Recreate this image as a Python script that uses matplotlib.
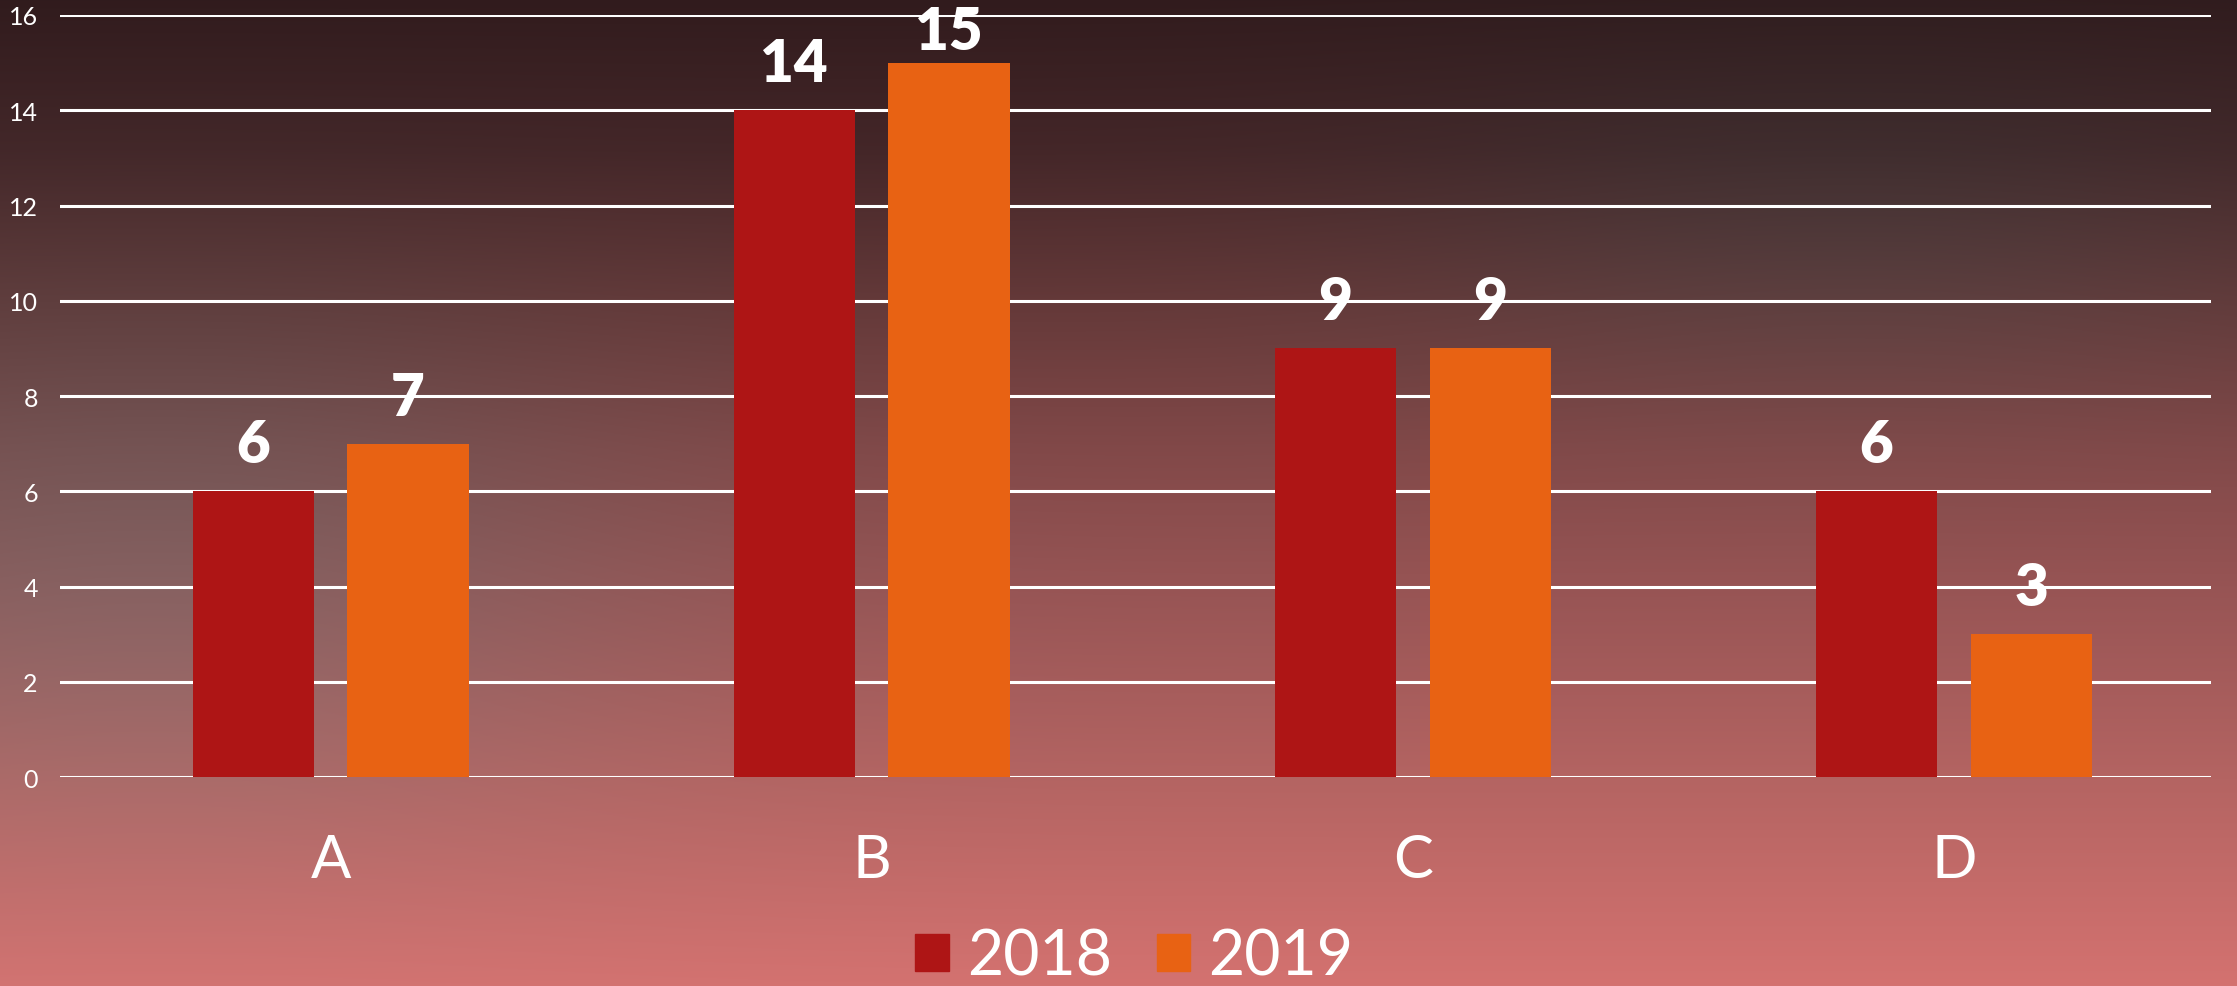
import numpy as np
import matplotlib
matplotlib.use("Agg")
import matplotlib.pyplot as plt
from matplotlib.patches import Patch

# data
categories = ["A", "B", "C", "D"]
series_names = ["2018", "2019"]
values_2018 = [6, 14, 9, 6]
values_2019 = [7, 15, 9, 3]
yticks = [0, 2, 4, 6, 8, 10, 12, 14, 16]

colors = ["#ae1515", "#e86213"]

W, H = 2237, 987
fig = plt.figure(figsize=(W / 100, H / 100), dpi=100)

# background: vertical gradient with a couple of soft greyish spots
stops_y = np.array([0, 150, 300, 450, 600, 780, 987]) / H
stops_c = np.array([
    (49, 27, 29), (68, 38, 40), (100, 56, 56), (130, 72, 72),
    (153, 85, 85), (180, 100, 98), (212, 114, 112)]) / 255.0
yy = np.linspace(0, 1, H)
base = np.stack([np.interp(yy, stops_y, stops_c[:, k]) for k in range(3)], axis=-1)
img = np.repeat(base[:, None, :], W, axis=1)
gx, gy = np.meshgrid(np.arange(W), np.arange(H))
grey = img.mean(axis=-1, keepdims=True)
w = (0.45 * np.exp(-(((gx - 150) / 500.0) ** 2 + ((gy - 520) / 300.0) ** 2))
     + 0.4 * np.exp(-(((gx - 1850) / 450.0) ** 2 + ((gy - 200) / 200.0) ** 2)))
img = img * (1 - w[..., None]) + (grey + 0.03) * w[..., None]
img = np.clip(img, 0, 1)
bg = fig.add_axes([0, 0, 1, 1], zorder=-10)
bg.imshow(img, aspect="auto", extent=[0, 1, 0, 1], origin="upper")
bg.axis("off")

ax = fig.add_axes([60 / W, 1 - 778.3 / H, (2211 - 60) / W, (778.3 - 15.9) / H])
ax.patch.set_alpha(0)

x = np.arange(len(categories))
bw = 0.224
off = 0.143
ax.bar(x - off, values_2018, bw, color=colors[0], zorder=3)
ax.bar(x + off, values_2019, bw, color=colors[1], zorder=3)

ax.set_ylim(0, 16)
ax.set_xlim(-0.5, 3.475)
ax.set_yticks(yticks)
ax.yaxis.grid(True, color="white", linewidth=2.2, zorder=1)
ax.set_axisbelow(True)
for s in ax.spines.values():
    s.set_visible(False)

ax.set_xticks(x)
ax.set_xticklabels(categories)
ax.tick_params(axis="x", length=0, pad=40, labelsize=43, labelcolor="white")
ax.tick_params(axis="y", length=0, pad=16, labelsize=18, labelcolor="white")
for lab in ax.get_xticklabels() + ax.get_yticklabels():
    lab.set_fontfamily("Lato")
    lab.set_fontweight("normal")

# data labels, kept inside the figure at the top
top_limit = 15.1
for xs, vals in [(x - off, values_2018), (x + off, values_2019)]:
    for xi, v in zip(xs, vals):
        ypos = min(v + 0.42, top_limit)
        ax.text(xi, ypos, str(v), ha="center", va="bottom", color="white",
                fontsize=42, fontweight="heavy", family="Lato", zorder=5)

handles = [Patch(color=c) for c in colors]
leg = fig.legend(handles, series_names, loc="center", bbox_to_anchor=(0.507, 0.03),
                 ncol=2, frameon=False, handlelength=0.53,
                 handleheight=0.53, handletextpad=0.29, columnspacing=0.72,
                 prop={"family": "Lato", "weight": "normal", "size": 45})
for t in leg.get_texts():
    t.set_color("white")

fig.savefig("out.png", dpi=100)
